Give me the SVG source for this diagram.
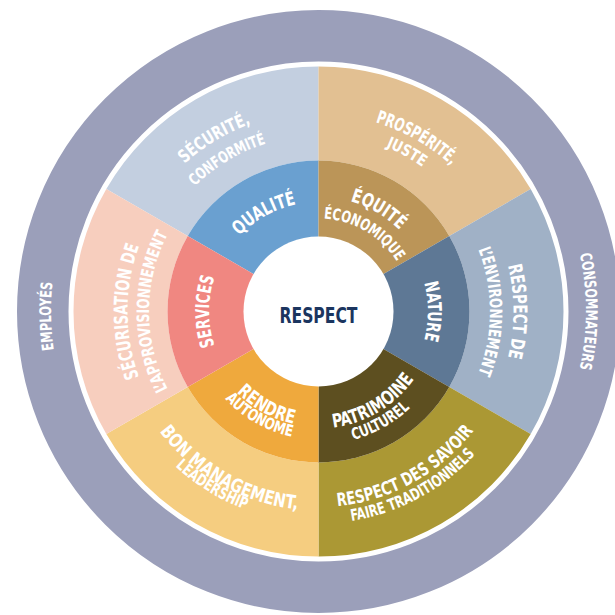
<svg xmlns="http://www.w3.org/2000/svg" xmlns:xlink="http://www.w3.org/1999/xlink" width="615" height="615" viewBox="0 0 615 615">
<style>
.t{font-family:"Liberation Sans Narrow","DejaVu Sans Condensed","Roboto Condensed","Liberation Sans",sans-serif;font-weight:700;fill:#ffffff;text-anchor:middle}
.s18{font-size:19px}.s17{font-size:18px}.s16{font-size:17px}.s15{font-size:16px}
</style>
<defs>
<path id="p-secu1" d="M -198.74,-17.39 A 199.5 199.5 0 0 1 198.74,-17.39"/>
<path id="p-secu2" d="M -175.33,-15.34 A 176 176 0 0 1 175.33,-15.34"/>
<path id="p-pros1" d="M -196.75,-17.21 A 197.5 197.5 0 0 1 196.75,-17.21"/>
<path id="p-pros2" d="M -177.32,-15.51 A 178 178 0 0 1 177.32,-15.51"/>
<path id="p-in110" d="M -109.08,-9.54 A 109.5 109.5 0 0 1 109.08,-9.54"/>
<path id="p-equi1" d="M -114.56,-10.02 A 115 115 0 0 1 114.56,-10.02"/>
<path id="p-equi2" d="M -92.65,-8.11 A 93 93 0 0 1 92.65,-8.11"/>
<path id="p-env1" d="M -194.26,-17.00 A 195 195 0 0 1 194.26,-17.00"/>
<path id="p-env2" d="M -170.84,-14.95 A 171.5 171.5 0 0 1 170.84,-14.95"/>
<path id="p-ring" d="M -266.48,-23.32 A 267.5 267.5 0 0 1 266.48,-23.32"/>
<path id="p-secr1" d="M -190.27,-16.65 A 191 191 0 0 1 190.27,-16.65"/>
<path id="p-secr2" d="M -168.85,-14.77 A 169.5 169.5 0 0 1 168.85,-14.77"/>
<path id="p-rend1" d="M -114.56,10.02 A 115 115 0 0 0 114.56,10.02"/>
<path id="p-rend2" d="M -127.51,11.16 A 128 128 0 0 0 127.51,11.16"/>
<path id="p-bon1" d="M -198.24,17.34 A 199 199 0 0 0 198.24,17.34"/>
<path id="p-bon2" d="M -210.19,18.39 A 211 211 0 0 0 210.19,18.39"/>
<path id="p-patr1" d="M -116.56,10.20 A 117 117 0 0 0 116.56,10.20"/>
<path id="p-patr2" d="M -132.50,11.59 A 133 133 0 0 0 132.50,11.59"/>
<path id="p-sav1" d="M -194.76,17.04 A 195.5 195.5 0 0 0 194.76,17.04"/>
<path id="p-sav2" d="M -211.19,18.48 A 212 212 0 0 0 211.19,18.48"/>
</defs>
<rect width="615" height="615" fill="#ffffff"/>
<g transform="translate(318.5,311.5)">
<g id="ring">
<circle r="275.75" fill="none" stroke="#9b9fba" stroke-width="51.5"/>
<text class="t s15" transform="rotate(-91)"><textPath href="#p-ring" startOffset="50%" textLength="68" lengthAdjust="spacingAndGlyphs">EMPLOYÉS</textPath></text>
<text class="t s15" transform="rotate(90)"><textPath href="#p-ring" startOffset="50%" textLength="116" lengthAdjust="spacingAndGlyphs">CONSOMMATEURS</textPath></text>
</g>
<g id="securite">
<path d="M -212.18,-122.5 A 245 245 0 0 1 0,-245 L 0,-151 A 151 151 0 0 0 -130.77,-75.5 Z" fill="#c3cfe0"/>
<text class="t s17" transform="rotate(-31)"><textPath href="#p-secu1" startOffset="50%" textLength="78" lengthAdjust="spacingAndGlyphs">SÉCURITÉ,</textPath></text>
<text class="t s15" transform="rotate(-31)"><textPath href="#p-secu2" startOffset="50%" textLength="84" lengthAdjust="spacingAndGlyphs">CONFORMITÉ</textPath></text>
</g>
<g id="prosperite">
<path d="M 0,-245 A 245 245 0 0 1 212.18,-122.5 L 130.77,-75.5 A 151 151 0 0 0 0,-151 Z" fill="#e2c092"/>
<text class="t s17" transform="rotate(29.5)"><textPath href="#p-pros1" startOffset="50%" textLength="88" lengthAdjust="spacingAndGlyphs">PROSPÉRITÉ,</textPath></text>
<text class="t s15" transform="rotate(29)"><textPath href="#p-pros2" startOffset="50%" textLength="42" lengthAdjust="spacingAndGlyphs">JUSTE</textPath></text>
</g>
<g id="environnement">
<path d="M 212.18,-122.5 A 245 245 0 0 1 212.18,122.5 L 130.77,75.5 A 151 151 0 0 0 130.77,-75.5 Z" fill="#a0b1c6"/>
<text class="t s18" transform="rotate(90)"><textPath href="#p-env1" startOffset="50%" textLength="93" lengthAdjust="spacingAndGlyphs">RESPECT DE</textPath></text>
<text class="t s16" transform="rotate(90)"><textPath href="#p-env2" startOffset="50%" textLength="127" lengthAdjust="spacingAndGlyphs">L’ENVIRONNEMENT</textPath></text>
</g>
<g id="savoir">
<path d="M 212.18,122.5 A 245 245 0 0 1 0,245 L 0,151 A 151 151 0 0 0 130.77,75.5 Z" fill="#ab9834"/>
<text class="t s17" transform="rotate(-29)"><textPath href="#p-sav1" startOffset="50%" textLength="160" lengthAdjust="spacingAndGlyphs">RESPECT DES SAVOIR</textPath></text>
<text class="t s15" transform="rotate(-28.3)"><textPath href="#p-sav2" startOffset="50%" textLength="143" lengthAdjust="spacingAndGlyphs">FAIRE TRADITIONNELS</textPath></text>
</g>
<g id="management">
<path d="M 0,245 A 245 245 0 0 1 -212.18,122.5 L -130.77,75.5 A 151 151 0 0 0 0,151 Z" fill="#f5cd80"/>
<text class="t s18" transform="rotate(29.5)"><textPath href="#p-bon1" startOffset="50%" textLength="163" lengthAdjust="spacingAndGlyphs">BON MANAGEMENT,</textPath></text>
<text class="t s15" transform="rotate(31.5)"><textPath href="#p-bon2" startOffset="50%" textLength="83" lengthAdjust="spacingAndGlyphs">LEADERSHIP</textPath></text>
</g>
<g id="securisation">
<path d="M -212.18,122.5 A 245 245 0 0 1 -212.18,-122.5 L -130.77,-75.5 A 151 151 0 0 0 -130.77,75.5 Z" fill="#f7cebe"/>
<text class="t s18" transform="rotate(-90)"><textPath href="#p-secr1" startOffset="50%" textLength="134" lengthAdjust="spacingAndGlyphs">SÉCURISATION DE</textPath></text>
<text class="t s16" transform="rotate(-90)"><textPath href="#p-secr2" startOffset="50%" textLength="161" lengthAdjust="spacingAndGlyphs">L’APPROVISIONNEMENT</textPath></text>
</g>
<g id="qualite">
<path d="M 0,0 L -130.77,-75.5 A 151 151 0 0 1 0,-151 Z" fill="#6aa0d0"/>
<text class="t s18" transform="rotate(-29)"><textPath href="#p-in110" startOffset="50%" textLength="66" lengthAdjust="spacingAndGlyphs">QUALITÉ</textPath></text>
</g>
<g id="equite">
<path d="M 0,0 L 0,-151 A 151 151 0 0 1 130.77,-75.5 Z" fill="#bb9558"/>
<text class="t s18" transform="rotate(30.5)"><textPath href="#p-equi1" startOffset="50%" textLength="58" lengthAdjust="spacingAndGlyphs">ÉQUITÉ</textPath></text>
<text class="t s15" transform="rotate(30.3)"><textPath href="#p-equi2" startOffset="50%" textLength="88" lengthAdjust="spacingAndGlyphs">ÉCONOMIQUE</textPath></text>
</g>
<g id="nature">
<path d="M 0,0 L 130.77,-75.5 A 151 151 0 0 1 130.77,75.5 Z" fill="#5e7895"/>
<text class="t s18" transform="rotate(90)"><textPath href="#p-in110" startOffset="50%" textLength="58" lengthAdjust="spacingAndGlyphs">NATURE</textPath></text>
</g>
<g id="patrimoine">
<path d="M 0,0 L 130.77,75.5 A 151 151 0 0 1 0,151 Z" fill="#5d4f20"/>
<text class="t s18" transform="rotate(-31)"><textPath href="#p-patr1" startOffset="50%" textLength="97" lengthAdjust="spacingAndGlyphs">PATRIMOINE</textPath></text>
<text class="t s15" transform="rotate(-29.3)"><textPath href="#p-patr2" startOffset="50%" textLength="66" lengthAdjust="spacingAndGlyphs">CULTUREL</textPath></text>
</g>
<g id="rendre">
<path d="M 0,0 L 0,151 A 151 151 0 0 1 -130.77,75.5 Z" fill="#efa93d"/>
<text class="t s18" transform="rotate(29)"><textPath href="#p-rend1" startOffset="50%" textLength="66" lengthAdjust="spacingAndGlyphs">RENDRE</textPath></text>
<text class="t s15" transform="rotate(29.5)"><textPath href="#p-rend2" startOffset="50%" textLength="78" lengthAdjust="spacingAndGlyphs">AUTONOME</textPath></text>
</g>
<g id="services">
<path d="M 0,0 L -130.77,75.5 A 151 151 0 0 1 -130.77,-75.5 Z" fill="#f08781"/>
<text class="t s18" transform="rotate(-90)"><textPath href="#p-in110" startOffset="50%" textLength="70" lengthAdjust="spacingAndGlyphs">SERVICES</textPath></text>
</g>
<g id="respect">
<circle r="75" fill="#ffffff"/>
<text class="t" x="0" y="11" textLength="78" lengthAdjust="spacingAndGlyphs" style="font-size:21.5px;fill:#1b355f">RESPECT</text>
</g>
</g>
</svg>
